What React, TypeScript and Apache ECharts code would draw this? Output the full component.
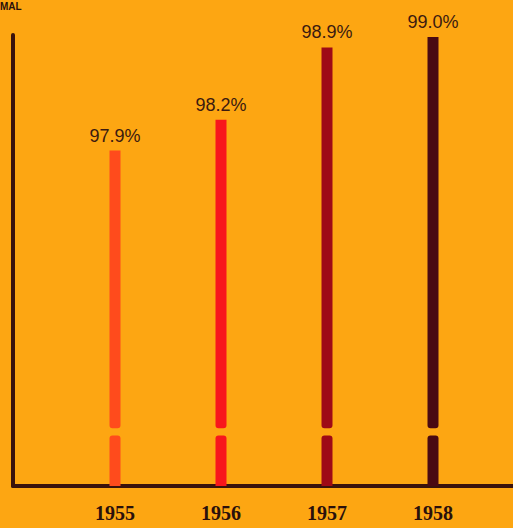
import React, { useEffect, useRef } from "react";
import * as echarts from "echarts";

const years = ["1955", "1956", "1957", "1958"];
const percents = [97.9, 98.2, 98.9, 99.0];
const barColors = ["#FF4B1C", "#F8161C", "#9E0A16", "#4A0A12"];
const breakLow = 95.14;
const breakGap = 0.07;
const yMin = 94.65;
const yMax = 99.02;

const BG = "#FDA612";
const INK = "#3A120C";

export default function App() {
  const ref = useRef<HTMLDivElement>(null);
  useEffect(() => {
    if (!ref.current) return;
    const chart = echarts.init(ref.current, null, { renderer: "svg" });
    const lowData = years.map(() => breakLow);
    const gapData = years.map(() => breakGap);
    const topData = percents.map((v) => +(v - breakLow - breakGap).toFixed(4));
    chart.setOption({
      animation: false,
      backgroundColor: BG,
      grid: [
        { left: 13, right: 0, top: 35, bottom: 42, containLabel: false },
        { left: 62, right: 27, top: 35, bottom: 42, containLabel: false },
      ],
      xAxis: [
        {
          type: "value",
          gridIndex: 0,
          min: 0,
          max: 1,
          splitLine: { show: false },
          axisTick: { show: false },
          axisLabel: { show: false },
          axisLine: { show: true, lineStyle: { color: INK, width: 4 } },
        },
        {
          type: "category",
          gridIndex: 1,
          data: years,
          axisTick: { show: false },
          axisLine: { show: false },
          axisLabel: {
            margin: 17,
            color: "#2A100C",
            fontFamily: "Liberation Serif",
            fontWeight: "bold",
            fontSize: 20,
          },
        },
      ],
      yAxis: [
        {
          type: "value",
          gridIndex: 0,
          min: yMin,
          max: yMax,
          splitLine: { show: false },
          axisTick: { show: false },
          axisLabel: { show: false },
          axisLine: { show: true, lineStyle: { color: INK, width: 4 } },
        },
        {
          type: "value",
          gridIndex: 1,
          min: yMin,
          max: yMax,
          show: false,
          splitLine: { show: false },
        },
      ],
      series: [
        {
          type: "bar",
          xAxisIndex: 1,
          yAxisIndex: 1,
          stack: "s",
          barWidth: 11,
          data: lowData,
          itemStyle: {
            color: (p: any) => barColors[p.dataIndex],
            borderRadius: [3, 3, 0, 0],
          },
        },
        {
          type: "bar",
          xAxisIndex: 1,
          yAxisIndex: 1,
          stack: "s",
          barWidth: 11,
          data: gapData,
          itemStyle: { color: "rgba(0,0,0,0)" },
        },
        {
          type: "bar",
          xAxisIndex: 1,
          yAxisIndex: 1,
          stack: "s",
          barWidth: 11,
          data: topData,
          itemStyle: {
            color: (p: any) => barColors[p.dataIndex],
            borderRadius: [0, 0, 3, 3],
          },
          label: {
            show: true,
            position: "top",
            distance: 6,
            formatter: (p: any) => percents[p.dataIndex].toFixed(1) + "%",
            color: "#3B1A10",
            fontFamily: "Liberation Sans",
            fontSize: 18,
          },
        },
      ],
      graphic: [
        {
          type: "text",
          left: 0,
          top: 1,
          style: {
            text: "MAL",
            fill: "#2A100C",
            font: "bold 10px Liberation Sans",
          },
        },
      ],
    });
    return () => chart.dispose();
  }, []);
  return (
    <div
      ref={ref}
      style={{ position: "fixed", left: 0, top: 0, width: 513, height: 528, background: BG }}
    />
  );
}
